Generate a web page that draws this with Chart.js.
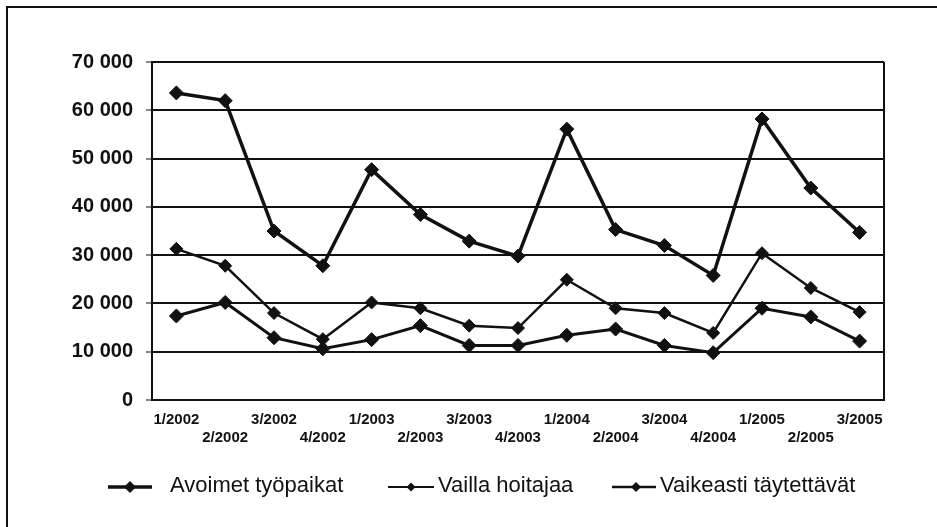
<!DOCTYPE html>
<html lang="fi">
<head>
<meta charset="UTF-8">
<title>Avoimet työpaikat</title>
<script src="https://cdn.jsdelivr.net/npm/chart.js"></script>
<style>
  body { margin: 0; background: #fff; }
  #wrap { position: relative; width: 937px; height: 527px; }
  #frame { position: absolute; left: 6px; top: 6px; right: 0; bottom: 0; border-left: 2px solid #111; border-top: 2px solid #111; pointer-events: none; }
  canvas { position: absolute; left: 0; top: 0; }
</style>
</head>
<body>
<div id="wrap">
  <canvas id="chart" width="937" height="527"></canvas>
  <div id="frame"></div>
</div>
<script>
  // neljännekset
  var quarters = ['1/2002', '2/2002', '3/2002', '4/2002', '1/2003', '2/2003', '3/2003', '4/2003',
                  '1/2004', '2/2004', '3/2004', '4/2004', '1/2005', '2/2005', '3/2005'];
  var avoimet = [63600, 62000, 35000, 27800, 47700, 38400, 32900, 29800, 56100, 35300, 32000, 25800, 58200, 43900, 34700];
  var vaillaHoitajaa = [31300, 27800, 18000, 12600, 20200, 19000, 15400, 14900, 24900, 19000, 18000, 13900, 30400, 23200, 18200];
  var vaikeasti = [17400, 20200, 12900, 10600, 12500, 15400, 11300, 11300, 13400, 14700, 11300, 9800, 19000, 17200, 12200];
  var yTicks = [0, 10000, 20000, 30000, 40000, 50000, 60000, 70000];

  var ink = '#111';
  var fontName = '"Liberation Sans", Arial, sans-serif';

  function spaced(v) {
    return String(v).replace(/\B(?=(\d{3})+(?!\d))/g, ' ');
  }

  // legenda piirretään itse: viiva + vinoneliö + teksti
  var legendItems = [
    { from: 108, to: 152, dot: 130, text: 170, r: 6, w: 3.5 },
    { from: 388, to: 434, dot: 411, text: 438, r: 4.5, w: 2 },
    { from: 612, to: 656, dot: 636, text: 660, r: 5, w: 2.5 }
  ];
  var legendPlugin = {
    id: 'ownLegend',
    afterDraw: function (chart) {
      var ctx = chart.ctx;
      var y = 487;
      ctx.save();
      chart.data.datasets.forEach(function (ds, i) {
        var it = legendItems[i];
        ctx.strokeStyle = ink;
        ctx.lineWidth = it.w;
        ctx.beginPath();
        ctx.moveTo(it.from, y);
        ctx.lineTo(it.to, y);
        ctx.stroke();
        var r = it.r;
        ctx.fillStyle = ink;
        ctx.beginPath();
        ctx.moveTo(it.dot, y - r);
        ctx.lineTo(it.dot + r, y);
        ctx.lineTo(it.dot, y + r);
        ctx.lineTo(it.dot - r, y);
        ctx.closePath();
        ctx.fill();
        ctx.font = '22px ' + fontName;
        ctx.textBaseline = 'alphabetic';
        ctx.textAlign = 'left';
        ctx.fillText(ds.label, it.text, y + 5);
      });
      // kuvaajan oikea reuna
      var a = chart.chartArea;
      ctx.strokeStyle = ink;
      ctx.lineWidth = 2;
      ctx.beginPath();
      ctx.moveTo(a.right, a.top);
      ctx.lineTo(a.right, a.bottom);
      ctx.stroke();
      ctx.restore();
    }
  };

  var ctx = document.getElementById('chart').getContext('2d');
  new Chart(ctx, {
    type: 'line',
    data: {
      labels: quarters,
      datasets: [{
        label: 'Avoimet työpaikat',
        data: avoimet,
        borderColor: ink,
        backgroundColor: ink,
        borderWidth: 3.5,
        pointStyle: 'rectRot',
        pointRadius: 7,
        pointBackgroundColor: ink,
        pointBorderColor: ink,
        pointBorderWidth: 1,
        tension: 0
      }, {
        label: 'Vailla hoitajaa',
        data: vaillaHoitajaa,
        borderColor: ink,
        backgroundColor: ink,
        borderWidth: 2.5,
        pointStyle: 'rectRot',
        pointRadius: 6.5,
        pointBackgroundColor: ink,
        pointBorderColor: ink,
        pointBorderWidth: 1,
        tension: 0
      }, {
        label: 'Vaikeasti täytettävät',
        data: vaikeasti,
        borderColor: ink,
        backgroundColor: ink,
        borderWidth: 3,
        pointStyle: 'rectRot',
        pointRadius: 7,
        pointBackgroundColor: ink,
        pointBorderColor: ink,
        pointBorderWidth: 1,
        tension: 0
      }]
    },
    options: {
      responsive: false,
      animation: false,
      clip: false,
      layout: { padding: { left: 0, top: 62, right: 53, bottom: 0 } },
      plugins: {
        legend: { display: false },
        tooltip: { enabled: false }
      },
      scales: {
        x: {
          offset: true,
          grid: { display: false, drawTicks: false },
          border: { color: ink, width: 2 },
          ticks: {
            color: ink,
            autoSkip: false,
            maxRotation: 0,
            padding: 10,
            font: { family: fontName, size: 15, weight: 'bold', lineHeight: 1.25 },
            callback: function (v, i) {
              return i % 2 === 0 ? quarters[i] : ['', quarters[i]];
            }
          },
          afterFit: function (scale) { scale.height = 127; }
        },
        y: {
          min: 0,
          max: 70000,
          afterBuildTicks: function (scale) {
            scale.ticks = yTicks.map(function (v) { return { value: v }; });
          },
          grid: { color: ink, lineWidth: 2, tickLength: 6, tickColor: ink, tickWidth: 1 },
          border: { color: ink, width: 2 },
          ticks: {
            color: ink,
            padding: 13,
            font: { family: fontName, size: 20, weight: 'bold' },
            callback: function (v) { return spaced(v); }
          },
          afterFit: function (scale) { scale.width = 152; }
        }
      }
    },
    plugins: [legendPlugin]
  });
</script>
</body>
</html>
